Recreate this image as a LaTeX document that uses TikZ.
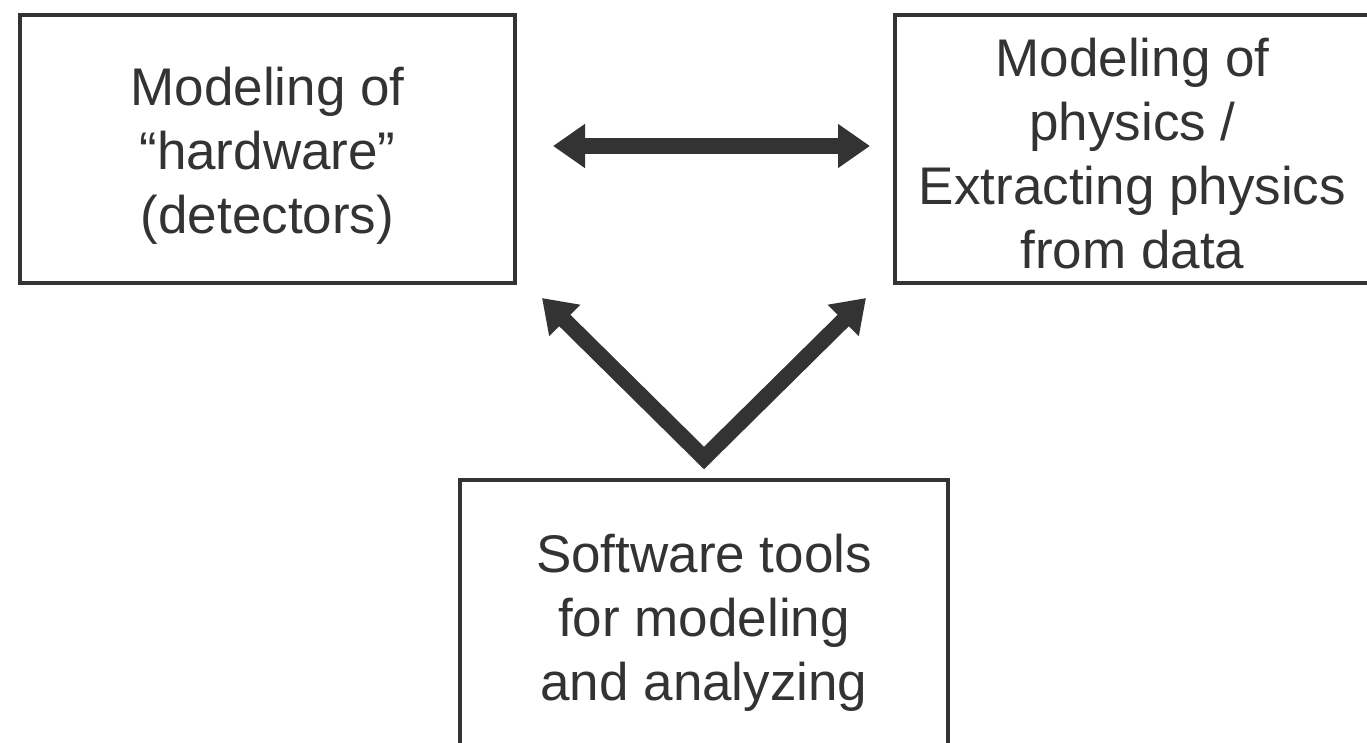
\documentclass[tikz,border=0pt]{standalone}
\usepackage{fontspec}
\setmainfont{Liberation Sans}
\usetikzlibrary{arrows.meta}
\definecolor{ink}{HTML}{333333}
\begin{document}
\begin{tikzpicture}[x=1pt,y=-1pt,
  box/.style={draw=ink, line width=4pt, rectangle, inner sep=0pt, align=center,
    text=ink, font=\fontsize{53}{64}\selectfont},
  boxtext/.style={inner sep=0pt, align=center, text=ink, font=\fontsize{53}{64}\selectfont},
  bigarrow/.style={draw=ink, line width=16pt, line join=miter,
    arrows={Triangle[length=32pt,width=42pt,fill=ink]-Triangle[length=32pt,width=42pt,fill=ink]}}
]
\useasboundingbox (0,0) rectangle (1367,743);
\begin{scope}
\clip (0,0) rectangle (1367,743);
\node[box, minimum width=495pt, minimum height=268pt] (hw) at (267.5,149) {};
\node[boxtext] (hwtext) at (267.5,156) {Modeling of\\“hardware”\\(detectors)};
\node[box, minimum width=475pt, minimum height=268pt] (phys) at (1132.5,149) {};
\node[boxtext] (phystext) at (1132.5,154) {Modeling of\\physics /\\Extracting physics\\from data};
\node[box, minimum width=488pt, minimum height=285pt] (sw) at (704,622.5)
  {Software tools\\for modeling\\and analyzing};
\end{scope}
\draw[bigarrow, shorten <=36pt, shorten >=23pt] ([yshift=3pt]hw.east) -- ([yshift=3pt]phys.west);
\coordinate (v) at ([yshift=20pt]sw.north);
\coordinate (tl) at (542,298);
\coordinate (tr) at (866,298);
\draw[bigarrow] (tl) -- (v) -- (tr);
\end{tikzpicture}
\end{document}
